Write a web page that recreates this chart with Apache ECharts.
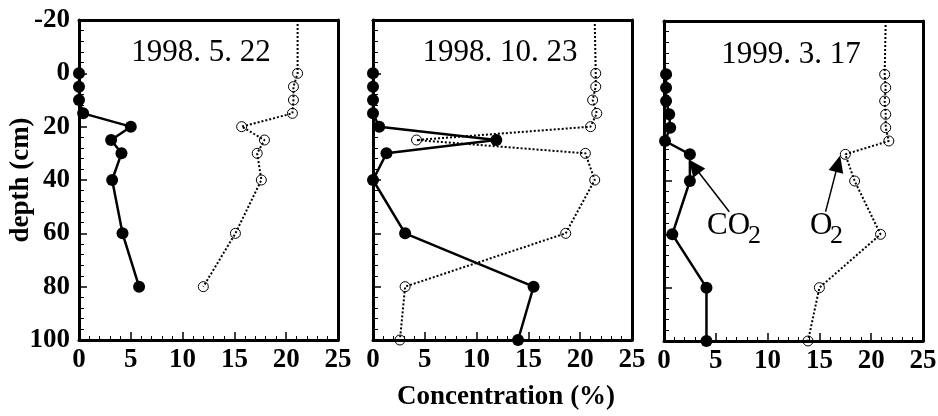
<!DOCTYPE html>
<html>
<head>
<meta charset="utf-8">
<script src="https://cdn.jsdelivr.net/npm/echarts@6/dist/echarts.min.js"></script>
<style>
  html, body { margin: 0; padding: 0; background: #fff; }
  #main { width: 938px; height: 416px; }
</style>
</head>
<body>
<div id="main"></div>
<script>
// panel dates
const dates = ['1998. 5. 22', '1998. 10. 23', '1999. 3. 17'];

// depth (cm) of each sample, per panel
const co2Depth1 = [0, 5, 10, 15, 20, 25, 30, 40, 60, 80];
const o2Depth1 = [-20, 0, 5, 10, 15, 20, 25, 30, 40, 60, 80];
const co2Depth2 = [0, 5, 10, 15, 20, 25, 30, 40, 60, 80, 100];
const o2Depth2 = [-20, 0, 5, 10, 15, 20, 25, 30, 40, 60, 80, 100];
const co2Depth3 = [0, 5, 10, 15, 20, 25, 30, 40, 60, 80, 100];
const o2Depth3 = [-20, 0, 5, 10, 15, 20, 25, 30, 40, 60, 80, 100];

// concentrations (%)
const co2Val1 = [0, 0, 0, 0.4, 5.0, 3.1, 4.1, 3.2, 4.2, 5.8];
const o2Val1 = [21.1, 21.1, 20.7, 20.7, 20.6, 15.7, 17.9, 17.2, 17.6, 15.1, 12.0];
const co2Val2 = [0, 0, 0, 0, 0.6, 11.9, 1.3, 0, 3.1, 15.5, 14.0];
const o2Val2 = [21.4, 21.5, 21.5, 21.2, 21.6, 21.0, 4.2, 20.5, 21.4, 18.6, 3.1, 2.6];
const co2Val3 = [0.2, 0.2, 0.2, 0.5, 0.6, 0.1, 2.5, 2.5, 0.8, 4.1, 4.1];
const o2Val3 = [21.4, 21.3, 21.4, 21.3, 21.4, 21.4, 21.7, 17.5, 18.4, 20.9, 15.0, 13.9];

// axis ticks
const depthTicks = [-20, 0, 20, 40, 60, 80, 100];
const concTicks = [0, 5, 10, 15, 20, 25];

const serif = 'Liberation Serif';

const pairs = (vals, depths) => vals.map((v, i) =>
  depths[i] === -20 ? { value: [v, depths[i]], symbol: 'none' } : [v, depths[i]]);

const grids = [
  { left: 79, width: 259, top: 20, height: 320 },
  { left: 373, width: 259, top: 20, height: 320 },
  { left: 664, width: 259, top: 21, height: 320 }
].map(g => Object.assign(g, { containLabel: false, outerBoundsMode: 'none' }));

const frameLine = () => ({ show: true, onZero: false, lineStyle: { color: '#000', width: 3 } });

const xAxes = [];
const yAxes = [];
grids.forEach((g, i) => {
  // bottom axis with ticks and labels
  xAxes.push({
    gridIndex: i, type: 'value', position: 'bottom',
    min: concTicks[0], max: concTicks[concTicks.length - 1], interval: 5,
    axisLine: frameLine(),
    axisTick: { show: true, inside: true, length: 8, lineStyle: { color: '#000', width: 1.5 } },
    minorTick: { show: true, splitNumber: 5, length: 4, lineStyle: { color: '#000', width: 1 } },
    splitLine: { show: false },
    axisLabel: { color: '#000', fontFamily: serif, fontWeight: 'bold', fontSize: 27, margin: 7 }
  });
  // top frame only
  xAxes.push({
    gridIndex: i, type: 'value', position: 'top', min: 0, max: 25,
    axisLine: frameLine(), axisTick: { show: false }, axisLabel: { show: false }, splitLine: { show: false }
  });
  // left depth axis
  yAxes.push({
    gridIndex: i, type: 'value', inverse: true, position: 'left',
    min: depthTicks[0], max: depthTicks[depthTicks.length - 1], interval: 20,
    axisLine: frameLine(),
    axisTick: { show: true, inside: true, length: 8, lineStyle: { color: '#000', width: 1.5 } },
    minorTick: { show: true, splitNumber: 5, length: 5, lineStyle: { color: '#000', width: 1 } },
    splitLine: { show: false },
    axisLabel: { show: i === 0, color: '#000', fontFamily: serif, fontWeight: 'bold', fontSize: 27, margin: 9 }
  });
  // right frame only
  yAxes.push({
    gridIndex: i, type: 'value', inverse: true, position: 'right', min: -20, max: 100,
    axisLine: frameLine(), axisTick: { show: false }, axisLabel: { show: false }, splitLine: { show: false }
  });
});
// axis title carried by a bare helper axis on the first panel
yAxes.push({
  gridIndex: 0, type: 'value', inverse: true, position: 'left', min: -20, max: 100,
  name: 'depth (cm)', nameLocation: 'middle', nameGap: 44,
  nameTextStyle: { color: '#000', fontFamily: serif, fontWeight: 'bold', fontSize: 27 },
  axisLine: { show: false }, axisTick: { show: false }, axisLabel: { show: false }, splitLine: { show: false }
});

const co2Series = (vals, depths, idx) => ({
  type: 'line', xAxisIndex: 2 * idx, yAxisIndex: 2 * idx,
  data: pairs(vals, depths),
  symbol: 'circle', symbolSize: 12,
  itemStyle: { color: '#000' },
  lineStyle: { color: '#000', width: 2.5 }
});

const o2Series = (vals, depths, idx) => ({
  type: 'line', xAxisIndex: 2 * idx, yAxisIndex: 2 * idx,
  data: pairs(vals, depths),
  symbol: 'circle', symbolSize: 10,
  itemStyle: { color: 'rgba(255,255,255,0)', borderColor: '#000', borderWidth: 1 },
  lineStyle: { color: '#000', width: 2, type: [2, 2] }
});

const series = [
  o2Series(o2Val1, o2Depth1, 0), co2Series(co2Val1, co2Depth1, 0),
  o2Series(o2Val2, o2Depth2, 1), co2Series(co2Val2, co2Depth2, 1),
  o2Series(o2Val3, o2Depth3, 2),
  Object.assign(co2Series(co2Val3, co2Depth3, 2), {
    markLine: {
      silent: true, symbol: ['none', 'triangle'], symbolSize: [15, 17],
      label: { show: false }, lineStyle: { color: '#000', width: 1.5, type: 'solid' },
      data: [
        [{ coord: [6.3, 51.5] }, { coord: [2.9, 34.5] }],
        [{ coord: [15.6, 51.5] }, { coord: [16.8, 33.5] }]
      ]
    }
  })
];

const txt = (text, x, y, font, align) => ({
  type: 'text', x: x, y: y,
  style: { text: text, fill: '#000', font: font, align: align || 'left', verticalAlign: 'middle' }
});

const graphic = [
  txt(dates[0], 201, 53, '31px "Liberation Serif"', 'center'),
  txt(dates[1], 500, 53, '31px "Liberation Serif"', 'center'),
  txt(dates[2], 791, 55, '31px "Liberation Serif"', 'center'),
  txt('CO', 707, 226, '31px "Liberation Serif"'),
  txt('2', 748, 236, '26px "Liberation Serif"'),
  txt('O', 810, 226, '31px "Liberation Serif"'),
  txt('2', 830, 236, '26px "Liberation Serif"'),
  txt('Concentration (%)', 506, 397, 'bold 27px "Liberation Serif"', 'center')
];

const chart = echarts.init(document.getElementById('main'));
chart.setOption({
  animation: false,
  grid: grids,
  xAxis: xAxes,
  yAxis: yAxes,
  series: series,
  graphic: graphic
});
</script>
</body>
</html>
